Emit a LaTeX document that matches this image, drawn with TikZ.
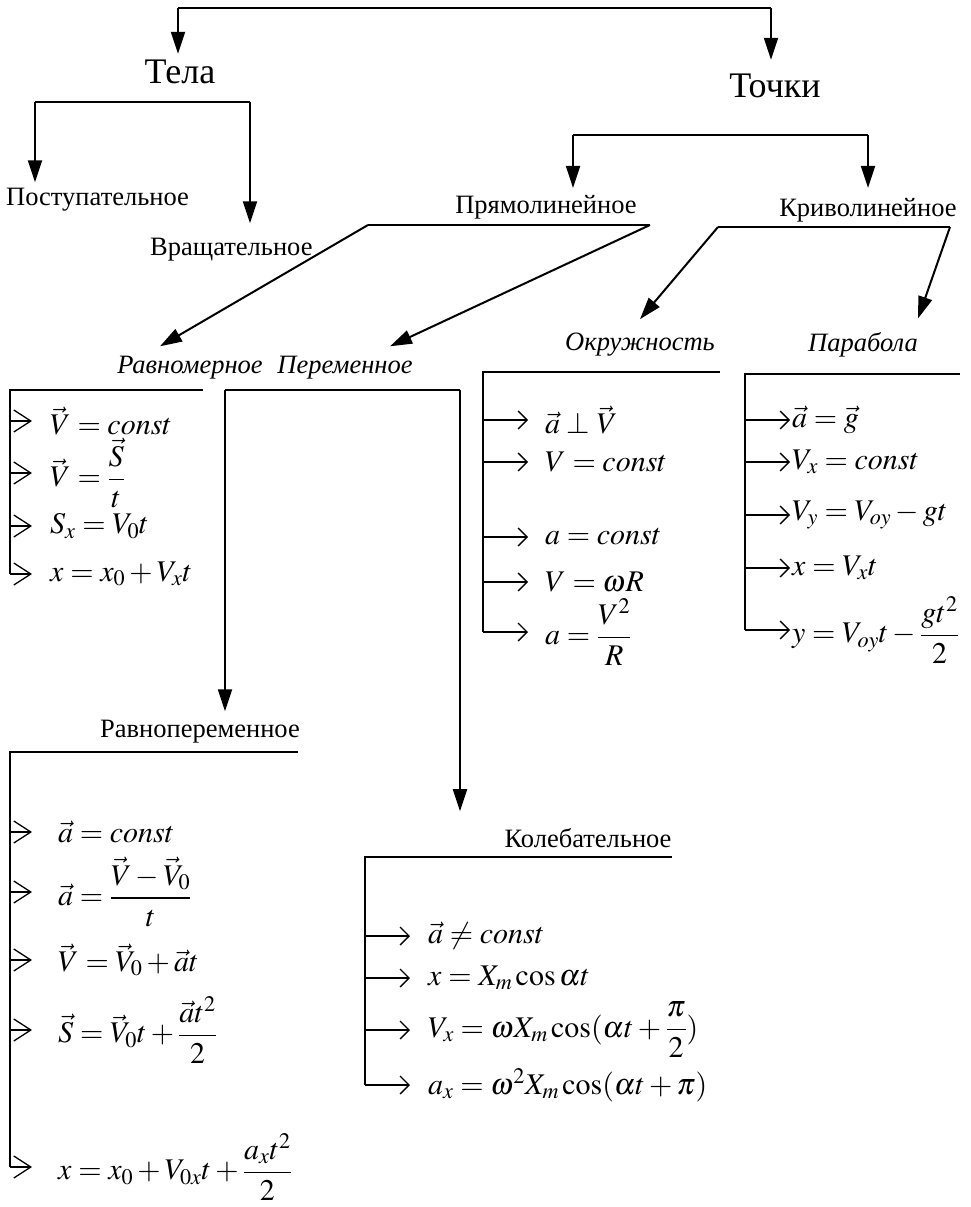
\documentclass[tikz,border=0pt]{standalone}
\usepackage{amsmath}
\usepackage{mathptmx}
\usepackage[no-math]{fontspec}
\setmainfont{Liberation Serif}
\usetikzlibrary{arrows.meta,calc}

\tikzset{
  head/.style={font=\fontsize{36}{40}\selectfont, inner sep=0pt},
  lbl/.style={font=\fontsize{26.5}{30}\selectfont, inner sep=0pt},
  ital/.style={font=\fontsize{26.5}{30}\selectfont\itshape, inner sep=0pt},
  frm/.style={font=\fontsize{30}{34}\selectfont, inner sep=0pt, anchor=west},
  br/.style={line width=2pt},
  tip/.style={br, -{Triangle[length=22pt,width=14pt]}},
  lst/.style={line width=1.3pt, -{Straight Barb[length=9pt,width=18pt]}},
  lstb/.style={line width=1.3pt, -{Straight Barb[length=17pt,width=22pt]}},
}

\begin{document}
\begin{tikzpicture}[x=1pt,y=-1pt]
\useasboundingbox[fill=white] (0,0) rectangle (970,1207);

% ---- top level ----
\node[head] (tela)   at (180,72) {Тела};
\node[head] (tochki) at (775,86) {Точки};
\coordinate (t1) at (178,8);
\coordinate (t2) at (771,8);
\draw[br] (t1) -- (t2);
\draw[tip] (t1) -- ($(t1 |- tela.north)+(0,-6)$);
\draw[tip] (t2) -- ($(t2 |- tochki.north)+(0,-14)$);

% ---- bodies ----
\node[lbl, anchor=west] (post)  at (6,200)   {Поступательное};
\node[lbl, anchor=west] (vrash) at (150,250) {Вращательное};
\coordinate (tb1) at (35,102);
\coordinate (tb2) at (250,102);
\draw[br] (tb1) -- (tb2);
\draw[tip] (tb1) -- ($(tb1 |- post.north)+(0,-6)$);
\draw[tip] (tb2) -- ($(tb2 |- vrash.north)+(0,-15)$);

% ---- points ----
\node[lbl] (pryam) at (546,207) {Прямолинейное};
\node[lbl] (kriv)  at (868,210) {Криволинейное};
\coordinate (pb1) at (573,135);
\coordinate (pb2) at (868,135);
\draw[br] (pb1) -- (pb2);
\draw[tip] (pb1) -- ($(pb1 |- pryam.north)+(0,-7)$);
\draw[tip] (pb2) -- ($(pb2 |- kriv.north)+(0,-10)$);

% ---- straight-line motion ----
\node[ital] (ravnom) at (190,368) {Равномерное};
\node[ital] (perem)  at (345,368) {Переменное};
\coordinate (pr1) at (368,225);
\coordinate (pr2) at (650,225);
\draw[br] (pr1) -- (pr2);
\draw[tip] (pr1) -- ($(ravnom.north)+(-30,-10)$);
\draw[tip] (pr2) -- ($(perem.north)+(45,-10)$);

% ---- curvilinear motion ----
\node[ital] (okr)   at (640,345) {Окружность};
\node[ital] (parab) at (863,345) {Парабола};
\coordinate (kr1) at (718,227);
\coordinate (kr2) at (950,227);
\draw[br] (kr1) -- (kr2);
\draw[tip] (kr1) -- ($(okr.north)+(0,-14)$);
\draw[tip] (kr2) -- ($(parab.north)+(55,-14)$);

% ---- uniform motion list ----
\coordinate (rb) at (10,390);
\node[frm] (r1) at (50,421) {$\vec{V}=const$};
\node[frm] (r2) at (50,473) {$\vec{V}=\dfrac{\vec{S}}{t}$};
\node[frm] (r3) at (50,526) {$S_x=V_0t$};
\node[frm] (r4) at (50,574) {$x=x_0+V_xt$};
\draw[br] (203,390) -- (rb) -- (rb |- r4.west);
\foreach \n in {r1,r2,r3,r4} \draw[lstb] (rb |- \n.west) -- ++(22,0);

% ---- variable motion split ----
\node[lbl] (ravnoper) at (200,732) {Равнопеременное};
\node[lbl] (koleb)    at (588,838) {Колебательное};
\coordinate (pm1) at (225,390);
\coordinate (pm2) at (460,390);
\draw[br] (pm1) -- (pm2);
\draw[tip] (pm1) -- ($(pm1 |- ravnoper.north)+(0,-9)$);
\draw[tip] (pm2) -- ($(pm2 |- koleb.north)+(0,-17)$);

% ---- circle list ----
\coordinate (ok) at (483,372);
\node[frm] (o1) at (545,420) {$\vec{a}\perp\vec{V}$};
\node[frm] (o2) at (545,462) {$V=const$};
\node[frm] (o3) at (545,537) {$a=const$};
\node[frm] (o4) at (545,582) {$V=\omega R$};
\node[frm] (o5) at (545,632) {$a=\dfrac{V^2}{R}$};
\draw[br] (720,372) -- (ok) -- (ok |- o5.west);
\foreach \n in {o1,o2,o3,o4,o5} \draw[lst] (ok |- \n.west) -- ++(45,0);

% ---- parabola list ----
\coordinate (pa) at (745,374);
\node[frm] (p1) at (792,420) {$\vec{a}=\vec{g}$};
\node[frm] (p2) at (792,462) {$V_x=const$};
\node[frm] (p3) at (792,515) {$V_y=V_{oy}-gt$};
\node[frm] (p4) at (792,568) {$x=V_xt$};
\node[frm] (p5) at (792,630) {$y=V_{oy}t-\dfrac{gt^2}{2}$};
\draw[br] (960,374) -- (pa) -- (pa |- p5.west);
\foreach \n in {p1,p2,p3,p4,p5} \draw[lst] (pa |- \n.west) -- ++(45,0);

% ---- uniformly variable list ----
\coordinate (rp) at (10,752);
\node[frm] (q1) at (58,832)  {$\vec{a}=const$};
\node[frm] (q2) at (58,892)  {$\vec{a}=\dfrac{\vec{V}-\vec{V}_0}{t}$};
\node[frm] (q3) at (58,960)  {$\vec{V}=\vec{V}_0+\vec{a}t$};
\node[frm] (q4) at (58,1030) {$\vec{S}=\vec{V}_0t+\dfrac{\vec{a}t^2}{2}$};
\node[frm] (q5) at (58,1167) {$x=x_0+V_{0x}t+\dfrac{a_xt^2}{2}$};
\draw[br] (298,752) -- (rp) -- (rp |- q5.west);
\foreach \n in {q1,q2,q3,q4,q5} \draw[lstb] (rp |- \n.west) -- ++(22,0);

% ---- oscillation list ----
\coordinate (kl) at (365,857);
\node[frm] (k1) at (428,936)  {$\vec{a}\ne const$};
\node[frm] (k2) at (428,978)  {$x=X_m\cos\alpha t$};
\node[frm] (k3) at (428,1030) {$V_x=\omega X_m\cos(\alpha t+\dfrac{\pi}{2})$};
\node[frm] (k4) at (428,1085) {$a_x=\omega^2X_m\cos(\alpha t+\pi)$};
\draw[br] (672,857) -- (kl) -- (kl |- k4.west);
\foreach \n in {k1,k2,k3,k4} \draw[lst] (kl |- \n.west) -- ++(45,0);
\end{tikzpicture}
\end{document}
